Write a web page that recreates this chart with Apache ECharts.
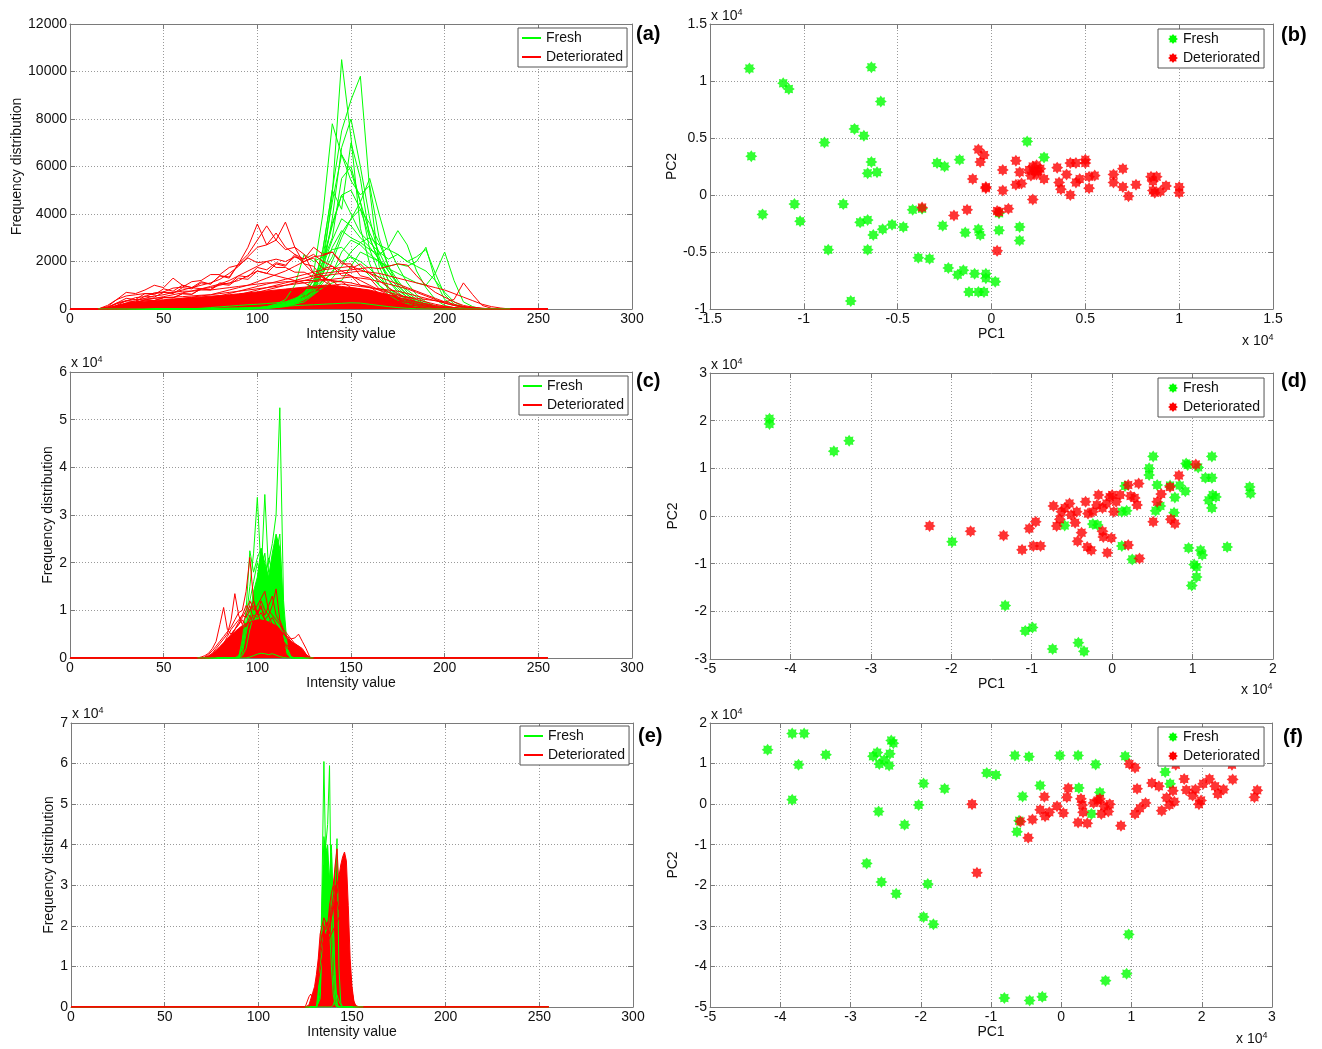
<!DOCTYPE html>
<html>
<head>
<meta charset="utf-8">
<script src="https://cdn.jsdelivr.net/npm/echarts@6/dist/echarts.min.js"></script>
<style>
  html, body { margin: 0; padding: 0; background: #fff; }
  #chart { width: 1322px; height: 1049px; }
</style>
</head>
<body>
<div id="chart"></div>
<script>
// ---- histogram bins (intensity values) ----
const binFirst = 0, binLast = 255;
const binsA = [15,20,25,30,35,40,45,50,55,60,65,70,75,80,85,90,95,100,105,110,115,120,125,130,135,140,145,150,155,160,165,170,175,180,185,190,195,200,205,210,215,220,225,230,235];
const binsC = [68,70,72,74,76,78,80,82,84,86,88,90,92,94,96,98,100,102,104,106,108,110,112,114,116,118,120,122,124,126,128,130];
const binsE = [125,126,127,128,129,130,131,132,133,134,135,136,137,138,139,140,141,142,143,144,145,146,147,148,149,150,151,152,153,154,155,156];

// ---- (a) fresh histograms ----
const freshA = [
  [0,0,0,0,0,0,0,0,0,0,0,0,0,0,0,0,0,20,40,60,100,200,400,800,1800,4800,10500,7200,3400,1900,1000,600,350,200,100,60,30,10,0,0,0,0,0,0,0],
  [0,0,0,0,0,0,0,0,0,0,0,0,0,0,0,0,0,10,30,60,120,250,500,1000,2500,5000,7500,8800,9800,5000,1800,900,500,250,120,60,20,0,0,0,0,0,0,0,0],
  [0,0,0,0,0,0,0,0,0,0,0,0,0,0,0,0,0,20,40,80,150,300,600,1500,4000,7800,6500,5800,4500,2500,1500,800,500,300,150,80,30,0,0,0,0,0,0,0,0],
  [0,0,0,0,0,0,0,0,0,0,0,0,0,0,0,0,0,30,60,100,200,400,700,1200,2200,4500,6500,5400,4800,5200,3000,1800,1000,600,300,150,50,0,0,0,0,0,0,0,0],
  [0,0,0,0,0,0,0,0,0,0,0,0,0,0,0,0,0,40,80,150,250,400,600,900,2000,3600,4800,5000,4200,3000,2000,1400,900,500,300,150,60,20,0,0,0,0,0,0,0],
  [0,0,0,0,0,0,0,0,0,0,0,0,0,0,0,0,0,30,60,120,200,350,600,1000,1500,2200,3200,3800,4200,3600,2800,1800,1200,700,400,200,80,20,0,0,0,0,0,0,0],
  [0,0,0,0,0,0,0,0,0,0,0,0,0,0,0,0,0,50,100,200,300,450,600,800,1500,2600,3300,3000,2800,2500,2300,2600,3300,2700,1600,900,400,150,50,0,0,0,0,0,0],
  [0,0,0,0,0,0,0,0,0,0,0,0,0,0,0,0,0,40,80,150,250,400,600,900,1200,1500,2400,2900,2700,2300,2000,1800,1900,1800,2000,2600,1200,400,150,50,0,0,0,0,0],
  [0,0,0,0,0,0,0,0,0,0,0,0,0,0,0,0,0,30,60,100,200,300,450,650,900,1100,1200,1800,2400,2200,2000,1700,1500,1300,1100,1000,1500,2400,1200,300,100,0,0,0,0],
  [0,0,0,0,0,0,0,0,0,0,10,30,60,90,120,150,180,200,230,260,300,350,450,700,1100,1600,2000,2200,2000,1700,1300,900,600,400,200,100,40,0,0,0,0,0,0,0,0],
  [0,0,0,0,0,0,0,0,0,0,0,0,0,0,0,0,0,30,60,100,150,200,300,600,1800,2900,3800,3500,3000,2600,2100,1600,1100,800,500,250,100,30,0,0,0,0,0,0,0],
  [0,0,0,0,0,0,0,0,0,0,0,0,0,0,0,0,0,50,100,200,400,1000,2300,2000,2200,2500,2600,2200,1800,1400,1000,700,500,300,150,60,20,0,0,0,0,0,0,0,0],
  [0,0,0,0,0,0,0,0,0,0,0,0,0,0,0,0,0,30,60,100,200,350,600,1200,2000,3000,5500,6000,4500,3200,2400,1600,1000,600,350,200,80,20,0,0,0,0,0,0,0],
  [0,0,0,0,0,0,0,0,0,0,0,0,0,0,0,0,0,40,80,150,250,400,700,1000,1600,3800,6800,8000,6000,3800,2200,1200,700,400,200,100,30,0,0,0,0,0,0,0,0],
  [0,0,0,0,0,0,0,0,0,0,0,0,0,0,0,0,0,30,60,120,200,300,500,900,2500,5000,4200,7000,5500,3000,2000,1200,800,500,250,120,40,0,0,0,0,0,0,0,0],
  [0,0,0,0,0,0,0,0,0,0,0,0,0,0,0,0,0,20,40,80,150,250,400,700,1200,2000,3000,3800,4500,5500,4000,2600,1800,1100,600,300,120,40,0,0,0,0,0,0,0],
  [0,0,0,0,0,0,0,0,0,0,0,0,0,0,0,0,0,30,60,100,180,300,500,900,2000,3500,4800,4000,3200,2800,2400,2100,2300,2000,2200,2500,1500,600,200,60,0,0,0,0,0],
  [0,0,0,0,0,0,0,0,0,0,0,0,0,0,0,0,0,20,40,80,150,250,400,600,900,1300,1800,2400,2800,3000,2700,2500,2300,2000,1800,1600,1200,700,300,100,0,0,0,0,0]
];
const freshLowA = [0,0,0,0,0,0,0,0,0,0,0,10,20,30,40,50,60,70,80,100,120,140,160,180,200,220,240,260,250,200,150,100,60,30,10,0,0,0,0,0,0,0,0,0,0];

// ---- (a) deteriorated histograms ----
const deterA = [
  [0,50,250,450,400,650,600,850,750,1000,900,1150,1050,1400,1300,1900,2600,3580,2700,2900,2500,2600,1900,1800,1300,1200,850,700,450,400,250,200,120,90,50,30,10,0,0,0,0,0,0,0,0],
  [0,30,150,350,300,550,500,700,650,900,850,1100,1050,1400,1350,1900,2300,2900,3500,2900,3660,2600,2300,1500,1400,950,850,550,500,300,280,150,130,70,50,30,10,0,0,0,0,0,0,0,0],
  [0,0,100,250,350,450,550,600,700,800,900,1000,1100,1250,1500,1800,2200,2600,2700,3200,2600,2300,1900,1500,1200,950,750,550,400,300,220,150,100,60,40,20,0,0,0,0,0,0,0,0,0],
  [0,100,400,700,650,800,1000,900,1300,1000,900,850,900,1000,1100,1200,1400,1600,1500,1400,1300,1200,1100,900,700,500,400,300,200,150,100,60,30,10,0,0,0,0,0,0,0,0,0,0,0],
  [0,0,50,180,220,380,350,480,470,640,620,850,800,1050,1000,1300,1250,1600,1500,1900,1800,2300,2100,2600,2300,2400,1900,1900,1400,1300,850,750,450,400,220,160,80,40,20,0,0,0,0,0,0],
  [0,0,0,100,200,250,300,350,400,450,500,550,600,700,800,900,1000,1150,1300,1450,1600,1800,2000,2200,2250,2400,2000,1700,1900,1500,1200,900,650,450,300,200,100,50,20,0,0,0,0,0,0],
  [0,0,80,220,280,380,360,480,470,650,620,850,820,1100,1050,1400,1350,1750,1650,1950,1850,2200,2000,2150,1700,1800,1400,1400,1000,950,650,550,320,280,140,110,50,20,0,0,0,0,0,0,0],
  [0,0,0,50,100,150,200,250,300,350,400,450,500,550,650,750,850,950,1050,1150,1250,1350,1450,1550,1650,1700,1750,1800,1650,1500,1350,1200,1050,900,750,600,450,300,200,100,50,20,0,0,0],
  [0,0,0,0,50,100,150,200,250,300,350,400,450,500,550,600,700,800,900,1000,1100,1200,1300,1400,1500,1550,1600,1650,1700,1750,1700,1800,1900,1850,1400,1000,700,500,300,150,80,30,0,0,0],
  [0,0,0,0,0,30,60,100,150,200,250,300,350,400,450,500,550,600,650,700,750,800,850,900,900,900,850,800,750,700,650,600,550,500,450,400,350,300,400,1100,600,150,30,0,0],
  [0,150,400,550,600,650,650,700,700,750,750,800,800,850,900,950,1000,1050,1100,1100,1150,1150,1200,1200,1250,1200,1150,1100,1000,900,800,700,600,500,400,300,200,120,60,30,10,0,0,0,0],
  [0,80,250,350,400,420,450,480,500,520,550,580,600,650,700,750,800,850,900,950,1000,1050,1100,1150,1200,1250,1300,1350,1300,1250,1150,1050,950,850,700,550,400,250,150,80,40,20,0,0,0],
  [0,40,120,200,250,280,300,320,340,360,380,400,420,450,480,520,560,600,650,700,750,800,850,900,950,1000,1050,1000,950,900,850,800,750,650,550,450,350,250,150,100,60,30,10,0,0],
  [0,60,220,330,480,520,680,720,880,920,1150,1200,1450,1450,1750,1850,2150,1950,2000,1750,1750,1550,1550,1350,1350,1150,1150,900,850,600,550,350,320,180,130,50,30,0,0,0,0,0,0,0,0],
  [0,0,60,180,280,380,450,520,600,680,760,850,950,1050,1200,1400,1600,1800,2000,2100,2000,2200,2100,2300,2000,1800,1600,1400,1200,1000,800,600,450,300,200,120,60,30,10,0,0,0,0,0,0],
  [0,0,0,0,30,60,100,150,200,250,300,350,400,450,500,550,600,700,800,900,1000,1100,1200,1300,1400,1450,1500,1550,1600,1550,1500,1400,1300,1200,1100,1000,900,800,650,500,350,200,100,40,0]
];
const deterBaseA = [0,30,150,250,300,330,360,390,420,450,480,510,540,570,600,640,680,720,760,800,840,880,920,960,1000,1000,950,900,850,800,700,600,500,400,300,220,150,100,60,30,10,0,0,0,0];

// ---- (c) histograms ----
const freshC = [
  [0,0,0,0,0,0,0,0,0,0,0,0,500,2000,6000,9000,12000,15000,18000,20000,24000,30000,52500,12000,2000,300,0,0,0,0,0,0],
  [0,0,0,0,0,0,0,0,0,0,0,0,3000,8000,15000,22000,33700,18000,22000,15000,19000,17000,20000,6000,1000,0,0,0,0,0,0,0],
  [0,0,0,0,0,0,0,0,0,0,0,0,2000,6000,12000,16000,20000,17000,34300,18000,15000,22000,26000,9000,1500,200,0,0,0,0,0,0],
  [0,0,0,0,0,0,0,0,0,0,0,0,4000,10000,22500,18000,21000,23000,16000,21000,18000,24000,14000,5000,800,0,0,0,0,0,0,0],
  [0,0,0,0,0,0,0,0,0,0,0,500,2000,7000,10000,12000,15000,13000,15000,12000,14000,16000,12000,5000,1000,0,0,0,0,0,0,0]
];
const freshFillC = [0,0,0,0,0,0,0,0,0,0,0,0,1000,5000,9000,14000,17000,23000,20000,17000,22000,26000,23000,10000,2000,0,0,0,0,0,0,0];
const freshLowC = [0,0,0,0,0,0,0,0,0,0,0,0,0,0,200,500,800,1000,900,700,900,600,300,100,0,0,0,0,0,0,0,0];
const deterC = [
  [0,0,200,800,1500,2500,3500,4500,5500,6500,8000,9500,10000,14000,21100,12000,9000,11000,8000,9000,7000,6000,4000,3000,2000,1500,1000,600,300,100,0,0],
  [0,0,100,500,1000,2000,3000,4000,5000,8000,13500,9000,7000,9000,11000,8000,10000,7000,8000,6000,7000,5500,4000,3500,2500,2000,1500,1000,500,200,0,0],
  [0,200,500,1000,2000,3500,7000,10600,6000,5000,6000,7000,8000,6500,9000,7000,8000,6000,7000,5000,5500,4500,3500,3000,2500,2000,1500,1000,500,100,0,0],
  [0,0,0,0,300,800,1500,2500,3500,4500,6000,7500,9000,8500,10000,11000,9000,12000,10000,9000,11000,14500,8000,6000,5000,4000,3000,2500,2000,800,100,0],
  [0,0,0,0,0,200,600,1200,2000,3000,4000,5000,6000,7000,8000,9000,8500,9500,8000,7500,8500,7000,6000,5000,4500,4000,4200,5000,3500,2000,200,0],
  [0,0,0,200,600,1200,2000,3000,4000,5000,6000,7000,8500,10000,12000,10000,11000,12500,14000,10000,9000,8000,7000,5500,4500,3500,2500,1500,800,300,0,0],
  [0,0,0,100,500,1000,2000,3000,4500,6000,7000,8000,9000,11000,10000,12000,9500,10500,9000,11000,13000,9000,7500,5500,4000,3000,2000,1200,600,200,0,0]
];
const deterFillC = [0,0,100,400,900,1600,2400,3200,4000,4800,5500,6200,6800,7200,7500,7800,8000,8000,7800,7500,7200,6800,6000,5000,4200,3500,3000,2500,1800,800,100,0];

// ---- (e) histograms ----
const freshE = [
  [0,0,0,0,0,0,0,0,5000,30000,60500,35000,25000,20000,10000,3000,500,0,0,0,0,0,0,0,0,0,0,0,0,0,0,0],
  [0,0,0,0,0,0,0,0,2000,15000,30000,40000,45000,59500,20000,8000,1000,0,0,0,0,0,0,0,0,0,0,0,0,0,0,0],
  [0,0,0,0,0,0,0,0,3000,20000,35000,30000,28000,32000,40000,25000,30000,41500,10000,1000,0,0,0,0,0,0,0,0,0,0,0,0],
  [0,0,0,0,0,0,0,1000,10000,22000,28000,32000,30000,28000,25000,20000,8000,1000,0,0,0,0,0,0,0,0,0,0,0,0,0,0],
  [0,0,0,0,0,0,0,2000,12000,20000,22000,18000,21000,19000,22000,15000,6000,500,0,0,0,0,0,0,0,0,0,0,0,0,0,0]
];
const freshFillE = [0,0,0,0,0,0,0,0,8000,25000,42000,38000,40000,30000,38000,22000,5000,500,0,0,0,0,0,0,0,0,0,0,0,0,0,0];
const freshLowE = [0,0,0,0,0,0,0,0,0,0,0,0,0,0,0,500,2000,3000,1500,500,0,0,0,0,0,0,0,0,0,0,0,0];
const deterE = [
  [0,0,2500,3200,2000,3000,6000,10000,15000,18000,19000,17000,18000,20000,24000,27000,30000,28000,31000,33000,30000,28000,22000,15000,8000,3000,800,0,0,0,0,0],
  [0,0,0,300,1000,2500,5000,9000,14000,17000,20000,19000,21000,18000,22000,25000,22000,26000,24000,27000,29000,26000,20000,14000,8000,3000,1000,200,0,0,0,0]
];
const deterFillE = [
  [0,0,500,2000,3500,5000,8000,12000,18000,20000,22000,21000,20000,25000,28000,30000,35000,39000,30000,25000,20000,15000,10000,5000,2000,500,0,0,0,0,0,0],
  [0,0,0,500,1500,3000,5000,8000,12000,15000,17000,18000,19000,20000,22000,25000,28000,30000,32000,35000,37000,38200,36000,25000,12000,5000,1500,300,0,0,0,0],
  [0,0,200,800,1500,2500,4000,6000,9000,12000,14000,15000,16000,17000,18000,19000,20000,21000,22000,23000,24000,24000,22000,16000,9000,4000,1200,300,0,0,0,0]
];

// ---- PCA scores (x 10^4) ----
const freshB = [[-1.29,1.11],[-0.64,1.12],[-1.11,0.98],[-1.08,0.93],[-0.59,0.82],[-0.73,0.58],[-0.68,0.52],[-0.89,0.46],[-1.28,0.34],[-0.64,0.29],[-0.66,0.19],[-0.61,0.20],[-1.05,-0.08],[-0.79,-0.08],[-1.22,-0.17],[-1.02,-0.23],[-0.70,-0.24],[-0.66,-0.22],[-0.63,-0.35],[-0.58,-0.30],[-0.53,-0.26],[-0.47,-0.28],[-0.42,-0.13],[-0.37,-0.12],[-0.87,-0.48],[-0.66,-0.48],[-0.39,-0.55],[-0.33,-0.56],[-0.75,-0.93],[-0.29,0.28],[-0.25,0.25],[-0.17,0.31],[-0.26,-0.27],[-0.14,-0.33],[-0.07,-0.30],[-0.06,-0.35],[-0.23,-0.64],[-0.18,-0.70],[-0.15,-0.66],[-0.09,-0.69],[-0.03,-0.69],[-0.03,-0.73],[0.02,-0.76],[-0.12,-0.85],[-0.07,-0.85],[-0.04,-0.85],[0.04,-0.16],[0.04,-0.31],[0.15,-0.28],[0.15,-0.40],[0.19,0.47],[0.28,0.33]];
const deterB = [[-0.37,-0.11],[-0.07,0.40],[-0.04,0.35],[-0.06,0.29],[-0.10,0.14],[-0.03,0.06],[-0.03,0.07],[-0.20,-0.18],[-0.13,-0.13],[0.03,-0.14],[0.04,-0.15],[0.09,-0.12],[0.03,-0.49],[0.06,0.22],[0.06,0.04],[0.13,0.09],[0.13,0.30],[0.15,0.20],[0.16,0.10],[0.22,0.25],[0.23,0.21],[0.25,0.21],[0.24,0.18],[0.26,0.23],[0.20,0.22],[0.24,0.26],[0.28,0.14],[0.22,-0.04],[0.21,0.17],[0.35,0.24],[0.36,0.11],[0.37,0.05],[0.40,0.18],[0.42,0.00],[0.42,0.28],[0.45,0.28],[0.45,0.11],[0.47,0.14],[0.50,0.31],[0.50,0.28],[0.52,0.16],[0.52,0.06],[0.55,0.17],[0.65,0.18],[0.65,0.11],[0.70,0.23],[0.70,0.07],[0.73,-0.01],[0.77,0.09],[0.85,0.16],[0.86,0.04],[0.86,0.12],[0.88,0.16],[0.90,0.03],[0.93,0.08],[1.00,0.07],[1.00,0.02],[0.87,0.02]];
const freshD = [[-4.26,2.04],[-4.26,1.93],[-3.46,1.36],[-3.27,1.58],[-1.99,-0.54],[-1.33,-1.88],[-1.08,-2.41],[-0.99,-2.34],[-0.74,-2.79],[-0.42,-2.66],[-0.35,-2.84],[-0.59,-0.20],[-0.24,-0.17],[-0.18,-0.19],[0.12,0.09],[0.18,0.11],[0.16,0.63],[0.12,-0.63],[0.25,-0.91],[0.46,1.00],[0.46,0.86],[0.51,1.25],[0.56,0.65],[0.54,0.11],[0.60,0.21],[0.72,0.64],[0.78,0.39],[0.77,0.07],[0.84,0.64],[0.91,0.52],[0.92,1.10],[0.94,1.07],[1.07,1.02],[0.95,-0.67],[1.02,-1.02],[1.05,-1.07],[1.05,-1.28],[0.99,-1.46],[1.10,-0.72],[1.12,-0.82],[1.16,0.80],[1.24,0.80],[1.24,1.25],[1.20,0.33],[1.25,0.44],[1.29,0.40],[1.24,0.17],[1.43,-0.65],[1.71,0.61],[1.72,0.47]];
const deterD = [[-2.27,-0.21],[-1.76,-0.32],[-1.35,-0.41],[-1.12,-0.71],[-1.03,-0.26],[-0.95,-0.12],[-0.98,-0.63],[-0.89,-0.63],[-0.73,0.21],[-0.69,-0.21],[-0.65,-0.07],[-0.63,0.09],[-0.59,0.17],[-0.53,0.26],[-0.51,0.02],[-0.46,-0.14],[-0.44,0.09],[-0.43,-0.53],[-0.38,-0.35],[-0.33,0.30],[-0.31,-0.65],[-0.26,-0.72],[-0.30,0.05],[-0.24,0.09],[-0.19,0.23],[-0.17,0.44],[-0.12,-0.32],[-0.11,-0.44],[-0.12,0.17],[-0.07,0.26],[-0.06,-0.77],[-0.03,0.40],[-0.01,-0.46],[0.00,0.44],[0.02,0.09],[0.05,0.30],[0.10,0.44],[0.20,0.65],[0.23,0.42],[0.20,-0.61],[0.28,0.38],[0.31,0.23],[0.33,0.68],[0.34,-0.89],[0.51,-0.12],[0.56,0.30],[0.61,0.46],[0.72,0.61],[0.73,-0.07],[0.78,-0.16],[0.83,0.85],[1.04,1.08]];
const freshF = [[-4.18,1.34],[-3.83,1.74],[-3.66,1.74],[-3.74,0.97],[-3.83,0.11],[-3.35,1.22],[-2.68,1.18],[-2.62,1.27],[-2.59,0.99],[-2.52,1.09],[-2.44,1.24],[-2.45,0.95],[-2.42,1.57],[-2.39,1.50],[-2.60,-0.18],[-2.77,-1.46],[-2.56,-1.92],[-2.35,-2.21],[-2.23,-0.51],[-2.03,-0.02],[-1.96,0.51],[-1.90,-1.97],[-1.96,-2.78],[-1.82,-2.96],[-1.66,0.38],[-1.06,0.77],[-0.93,0.72],[-0.66,1.20],[-0.46,1.17],[-0.55,0.19],[-0.60,-0.41],[-0.63,-0.68],[-0.30,0.46],[-0.02,1.20],[0.24,1.20],[0.25,0.40],[0.43,-0.24],[0.49,0.98],[0.55,0.29],[0.91,1.18],[0.96,-3.21],[0.93,-4.18],[0.63,-4.35],[-0.81,-4.78],[-0.45,-4.84],[-0.27,-4.75],[1.48,0.79],[1.55,0.50]];
const deterF = [[-1.27,0.00],[-1.20,-1.69],[-0.58,-0.43],[-0.47,-0.83],[-0.41,-0.38],[-0.30,-0.14],[-0.24,0.18],[-0.23,-0.30],[-0.17,-0.20],[-0.06,-0.05],[0.03,-0.22],[0.08,0.17],[0.10,0.39],[0.24,-0.45],[0.28,0.13],[0.30,-0.02],[0.31,-0.20],[0.37,-0.47],[0.46,0.03],[0.52,0.09],[0.55,0.13],[0.57,-0.24],[0.61,-0.05],[0.67,-0.18],[0.69,0.00],[0.85,-0.53],[0.97,0.99],[1.05,0.90],[1.05,-0.24],[1.08,0.38],[1.12,-0.10],[1.20,0.03],[1.29,0.52],[1.39,0.44],[1.43,-0.16],[1.50,0.16],[1.54,-0.02],[1.59,0.33],[1.61,0.06],[1.63,0.97],[1.75,0.62],[1.78,0.35],[1.87,0.21],[1.91,0.36],[1.96,0.00],[1.99,0.09],[2.02,0.50],[2.11,0.62],[2.19,0.44],[2.23,0.25],[2.31,0.36],[2.43,0.97],[2.44,0.61],[2.75,0.17],[2.79,0.34]];

// ---- styles ----
const GREEN = '#00ff00', RED = '#ff0000';
const FONT = 'Liberation Sans, Arial, sans-serif';
const BOX = '#7a7a7a';
const TXT = '#111';

function asteriskPath() {
    let pts = [];
    for (let k = 0; k < 16; k++) {
        let a = Math.PI * k / 8;
        let r = k % 2 === 0 ? 1 : 0.68;
        pts.push((r * Math.sin(a)).toFixed(3) + ',' + (-r * Math.cos(a)).toFixed(3));
    }
    return 'path://M' + pts.join('L') + 'Z';
}
const STAR = asteriskPath();

function toPoints(bins, vals, pad) {
    let pts = pad ? [[binFirst, 0]] : [];
    bins.forEach((b, i) => pts.push([b, vals[i]]));
    if (pad) pts.push([binLast, 0]);
    return pts;
}

// panel layout
const panels = [
    {rect: [70, 24, 562, 285], x: [0, 300, 50], y: [0, 12000, 2000], xName: 'Intensity value', yName: 'Frequency distribution', yGap: 46, scale: 1},
    {rect: [710, 24, 563, 285], x: [-1.5, 1.5, 0.5], y: [-1, 1.5, 0.5], xName: 'PC1', yName: 'PC2', yGap: 30},
    {rect: [70, 372, 562, 286], x: [0, 300, 50], y: [0, 60000, 10000], xName: 'Intensity value', yName: 'Frequency distribution', yGap: 14, scale: 10000},
    {rect: [710, 373, 563, 286], x: [-5, 2, 1], y: [-3, 3, 1], xName: 'PC1', yName: 'PC2', yGap: 30},
    {rect: [71, 723, 562, 284], x: [0, 300, 50], y: [0, 70000, 10000], xName: 'Intensity value', yName: 'Frequency distribution', yGap: 14, scale: 10000},
    {rect: [710, 723, 562, 284], x: [-5, 3, 1], y: [-5, 2, 1], xName: 'PC1', yName: 'PC2', yGap: 30}
];

let grid = [], xAxis = [], yAxis = [], series = [], legend = [], title = [];

panels.forEach((p, i) => {
    grid.push({left: p.rect[0], top: p.rect[1], width: p.rect[2], height: p.rect[3], show: false});
    let lineStyle = {color: BOX, width: 1};
    let tick = {show: true, inside: true, length: 5, lineStyle: lineStyle};
    let split = {show: true, lineStyle: {type: [1, 2], color: '#9a9a9a', width: 1}};
    xAxis.push({
        gridIndex: i, type: 'value', min: p.x[0], max: p.x[1], interval: p.x[2], position: 'bottom',
        axisLine: {show: true, onZero: false, lineStyle: lineStyle}, axisTick: tick,
        axisLabel: {color: TXT, fontSize: 14, fontFamily: FONT, margin: 3},
        splitLine: split,
        name: p.xName, nameLocation: 'middle', nameGap: 17,
        nameTextStyle: {color: TXT, fontSize: 14, fontFamily: FONT}
    });
    xAxis.push({
        gridIndex: i, type: 'value', min: p.x[0], max: p.x[1], interval: p.x[2], position: 'top',
        axisLine: {show: true, onZero: false, lineStyle: lineStyle}, axisTick: tick,
        axisLabel: {show: false}, splitLine: {show: false}
    });
    yAxis.push({
        gridIndex: i, type: 'value', min: p.y[0], max: p.y[1], interval: p.y[2], position: 'left',
        axisLine: {show: true, onZero: false, lineStyle: lineStyle}, axisTick: tick,
        axisLabel: {color: TXT, fontSize: 14, fontFamily: FONT, margin: 3,
            formatter: p.scale ? (v => String(v / p.scale)) : null},
        splitLine: split,
        name: p.yName, nameLocation: 'middle', nameGap: p.yGap,
        nameTextStyle: {color: TXT, fontSize: 14, fontFamily: FONT}
    });
    yAxis.push({
        gridIndex: i, type: 'value', min: p.y[0], max: p.y[1], interval: p.y[2], position: 'right',
        axisLine: {show: true, onZero: false, lineStyle: lineStyle}, axisTick: tick,
        axisLabel: {show: false}, splitLine: {show: false}
    });
});

function histLine(panel, name, bins, vals, color, fill, noPad) {
    let s = {
        type: 'line', name: name, xAxisIndex: panel * 2, yAxisIndex: panel * 2,
        data: toPoints(bins, vals, !noPad), symbol: 'none', showSymbol: false, silent: true,
        lineStyle: {color: color, width: 1}, itemStyle: {color: color}
    };
    if (fill) s.areaStyle = {color: color, opacity: 1};
    series.push(s);
}
function scatter(panel, name, data, color) {
    series.push({
        type: 'scatter', name: name, xAxisIndex: panel * 2, yAxisIndex: panel * 2,
        data: data, symbol: STAR, symbolSize: 12, silent: true,
        itemStyle: {color: color}
    });
}

// (a)
freshA.forEach(v => histLine(0, 'Fresh', binsA, v, GREEN));
histLine(0, 'Deteriorated', binsA, deterBaseA, RED, true);
deterA.forEach(v => histLine(0, 'Deteriorated', binsA, v, RED));
histLine(0, 'Fresh', binsA, freshLowA, GREEN, false, true);
// (b)
scatter(1, 'Fresh', freshB, GREEN);
scatter(1, 'Deteriorated', deterB, RED);
// (c)
histLine(2, 'Fresh', binsC, freshFillC, GREEN, true);
freshC.forEach(v => histLine(2, 'Fresh', binsC, v, GREEN));
histLine(2, 'Deteriorated', binsC, deterFillC, RED, true);
deterC.forEach(v => histLine(2, 'Deteriorated', binsC, v, RED));
histLine(2, 'Fresh', binsC, freshLowC, GREEN, false, true);
// (d)
scatter(3, 'Fresh', freshD, GREEN);
scatter(3, 'Deteriorated', deterD, RED);
// (e)
histLine(4, 'Fresh', binsE, freshFillE, GREEN, true);
freshE.forEach(v => histLine(4, 'Fresh', binsE, v, GREEN));
deterFillE.forEach(v => histLine(4, 'Deteriorated', binsE, v, RED, true));
deterE.forEach(v => histLine(4, 'Deteriorated', binsE, v, RED));
histLine(4, 'Fresh', binsE, freshLowE, GREEN, false, true);
// (f)
scatter(5, 'Fresh', freshF, GREEN);
scatter(5, 'Deteriorated', deterF, RED);

// legends
const legendSpots = [[518, 28, 'line'], [1158, 29, 'star'], [519, 376, 'line'], [1158, 378, 'star'], [520, 726, 'line'], [1158, 727, 'star']];
legendSpots.forEach(l => {
    let isLine = l[2] === 'line';
    legend.push({
        left: l[0], top: l[1], orient: 'vertical', selectedMode: false,
        data: ['Fresh', 'Deteriorated'],
        icon: isLine ? 'rect' : STAR,
        itemWidth: isLine ? 19 : 10, itemHeight: isLine ? 2 : 10, itemGap: 3,
        padding: isLine ? [2, 4, 2, 4] : [2, 4, 2, 10],
        backgroundColor: '#fff', borderColor: '#555', borderWidth: 1, borderRadius: 0,
        textStyle: {color: TXT, fontSize: 14, fontFamily: FONT, lineHeight: 16}
    });
});

// panel letters
[['(a)', 636, 24], ['(b)', 1281, 25], ['(c)', 636, 371], ['(d)', 1281, 371], ['(e)', 638, 726], ['(f)', 1283, 727]].forEach(t => {
    title.push({text: t[0], left: t[1], top: t[2], padding: 0,
        textStyle: {fontSize: 20, fontWeight: 'bold', color: '#000', fontFamily: FONT}});
});
// exponent labels
const expRich = {
    a: {fontSize: 14, fontWeight: 'normal', color: TXT, fontFamily: FONT, lineHeight: 16},
    b: {fontSize: 9, fontWeight: 'normal', color: TXT, fontFamily: FONT, verticalAlign: 'top', lineHeight: 16}
};
[[711, 8], [1242, 333], [71, 355], [711, 357], [1241, 682], [72, 706], [711, 707], [1236, 1031]].forEach(t => {
    title.push({text: '{a|x 10}{b|4}', left: t[0], top: t[1], padding: 0,
        textStyle: {fontWeight: 'normal', rich: expRich}});
});

let chart = echarts.init(document.getElementById('chart'));
chart.setOption({
    animation: false,
    backgroundColor: '#fff',
    title: title,
    grid: grid,
    xAxis: xAxis,
    yAxis: yAxis,
    legend: legend,
    series: series
});
</script>
</body>
</html>
